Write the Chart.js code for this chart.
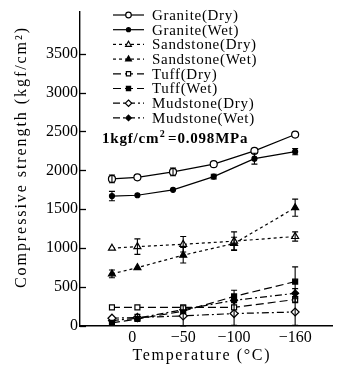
<!DOCTYPE html>
<html>
<head>
<meta charset="utf-8">
<script src="https://cdn.jsdelivr.net/npm/chart.js@4.4.0/dist/chart.umd.min.js"></script>
<style>
  html, body { margin: 0; padding: 0; background: #fff; }
  #wrap { width: 338px; height: 370px; }
</style>
</head>
<body>
<div id="wrap"><canvas id="chart" width="338" height="370"></canvas></div>
<script>
// ===== test temperatures (deg C) =====
const graniteTemps = [20, -5, -40, -80, -120, -160];
const rockTemps = [20, -5, -50, -100, -160];

// ===== compressive strength (kgf/cm2) =====
const graniteDry = [1890, 1910, 1980, 2080, 2250, 2460];
const graniteWet = [1670, 1680, 1750, 1920, 2150, 2240];
const sandstoneDry = [1000, 1020, 1050, 1090, 1150];
const sandstoneWet = [670, 750, 910, 1060, 1520];
const tuffDry = [240, 240, 240, 240, 340];
const tuffWet = [40, 90, 190, 380, 570];
const mudstoneDry = [100, 110, 130, 160, 180];
const mudstoneWet = [70, 100, 210, 330, 420];

// ===== scatter (+/-) =====
const graniteDryErr = [50, 0, 50, 0, 0, 0];
const graniteWetErr = [60, 0, 0, 30, 70, 40];
const sandstoneDryErr = [0, 100, 100, 120, 60];
const sandstoneWetErr = [50, 0, 100, 80, 110];
const tuffDryErr = [0, 0, 0, 0, 40];
const tuffWetErr = [0, 0, 0, 80, 190];
const mudstoneDryErr = [0, 40, 130, 150, 170];
const mudstoneWetErr = [0, 0, 0, 0, 60];

// ===== tick labels =====
const xTicks = [0, -50, -100, -160];
const yTicks = [0, 500, 1000, 1500, 2000, 2500, 3000, 3500];

const SERIF = "'Liberation Serif', 'DejaVu Serif', serif";

function pts(temps, vals) {
    return temps.map((t, i) => ({ x: t, y: vals[i] }));
}

function series(label, temps, vals, errs, style, filled, radius, dash) {
    return {
        label: label,
        data: pts(temps, vals),
        errors: errs,
        borderColor: '#000',
        borderWidth: 1.2,
        borderDash: dash,
        pointStyle: style,
        pointRadius: radius,
        pointBorderWidth: 1.2,
        pointBorderColor: '#000',
        pointBackgroundColor: filled ? '#000' : '#fff',
        fill: false,
        tension: 0
    };
}

const SOLID = [];
const DOTTED = [3, 3];
const DASHED = [8, 4];
const DASHDOT = [7, 3, 2, 3];

const datasets = [
    series('Granite(Dry)', graniteTemps, graniteDry, graniteDryErr, 'circle', false, 3.5, SOLID),
    series('Granite(Wet)', graniteTemps, graniteWet, graniteWetErr, 'circle', true, 2.5, SOLID),
    series('Sandstone(Dry)', rockTemps, sandstoneDry, sandstoneDryErr, 'triangle', false, 4, DOTTED),
    series('Sandstone(Wet)', rockTemps, sandstoneWet, sandstoneWetErr, 'triangle', true, 4, DOTTED),
    series('Tuff(Dry)', rockTemps, tuffDry, tuffDryErr, 'rect', false, 3.5, DASHED),
    series('Tuff(Wet)', rockTemps, tuffWet, tuffWetErr, 'rect', true, 3.5, DASHED),
    series('Mudstone(Dry)', rockTemps, mudstoneDry, mudstoneDryErr, 'rectRot', false, 4, DASHDOT),
    series('Mudstone(Wet)', rockTemps, mudstoneWet, mudstoneWetErr, 'rectRot', true, 3.5, DASHDOT)
];

// ===== small marker painter for the legend =====
function drawMarker(ctx, style, x, y, r, fill) {
    ctx.save();
    ctx.setLineDash([]);
    ctx.lineWidth = 1.2;
    ctx.strokeStyle = '#000';
    ctx.fillStyle = fill;
    ctx.beginPath();
    if (style === 'circle') {
        ctx.arc(x, y, r, 0, Math.PI * 2);
    } else if (style === 'triangle') {
        ctx.moveTo(x, y - r);
        ctx.lineTo(x + r * 0.9, y + r * 0.6);
        ctx.lineTo(x - r * 0.9, y + r * 0.6);
        ctx.closePath();
    } else if (style === 'rect') {
        ctx.rect(x - r * 0.75, y - r * 0.75, r * 1.5, r * 1.5);
    } else {
        ctx.moveTo(x, y - r);
        ctx.lineTo(x + r, y);
        ctx.lineTo(x, y + r);
        ctx.lineTo(x - r, y);
        ctx.closePath();
    }
    ctx.fill();
    ctx.stroke();
    ctx.restore();
}

// ===== error bars =====
const errorBars = {
    id: 'errorBars',
    afterDatasetsDraw(chart) {
        const ctx = chart.ctx;
        const xs = chart.scales.x, ys = chart.scales.y;
        ctx.save();
        ctx.strokeStyle = '#000';
        ctx.lineWidth = 1.1;
        ctx.setLineDash([]);
        chart.data.datasets.forEach(ds => {
            ds.data.forEach((p, i) => {
                const e = ds.errors[i];
                if (!e) return;
                const px = xs.getPixelForValue(p.x);
                const top = ys.getPixelForValue(p.y + e);
                const bot = ys.getPixelForValue(Math.max(0, p.y - e));
                ctx.beginPath();
                ctx.moveTo(px, top); ctx.lineTo(px, bot);
                ctx.moveTo(px - 3, top); ctx.lineTo(px + 3, top);
                ctx.moveTo(px - 3, bot); ctx.lineTo(px + 3, bot);
                ctx.stroke();
            });
        });
        ctx.restore();
    }
};

// ===== text, inner legend, inward ticks =====
function spacedText(ctx, text, x, y, width) {
    ctx.letterSpacing = '0px';
    const w = ctx.measureText(text).width;
    const ls = (width - w) / (text.length - 1);
    ctx.letterSpacing = ls + 'px';
    ctx.textAlign = 'left';
    ctx.fillText(text, x - width / 2, y);
    ctx.letterSpacing = '0px';
}

const decorations = {
    id: 'decorations',
    afterDraw(chart) {
        const ctx = chart.ctx;
        const area = chart.chartArea;
        const ys = chart.scales.y;
        ctx.save();
        ctx.fillStyle = '#000';
        ctx.strokeStyle = '#000';

        // y ticks point inward
        ctx.lineWidth = 1.3;
        yTicks.forEach(v => {
            const py = Math.round(ys.getPixelForValue(v)) + 0.5;
            ctx.beginPath();
            ctx.moveTo(area.left, py);
            ctx.lineTo(area.left + 6, py);
            ctx.stroke();
        });

        // legend
        ctx.font = '15px ' + SERIF;
        ctx.textBaseline = 'middle';
        chart.data.datasets.forEach((ds, i) => {
            const cy = 15 + i * 14.7;
            ctx.save();
            ctx.lineWidth = 1.2;
            ctx.setLineDash(ds.borderDash);
            ctx.beginPath();
            ctx.moveTo(113, cy);
            ctx.lineTo(144, cy);
            ctx.stroke();
            ctx.restore();
            drawMarker(ctx, ds.pointStyle, 128.5, cy, ds.pointRadius * 0.8, ds.pointBackgroundColor);
            ctx.letterSpacing = '0.7px';
            ctx.textAlign = 'left';
            ctx.fillText(ds.label, 152, cy + 1);
            ctx.letterSpacing = '0px';
        });

        // unit note
        ctx.textBaseline = 'alphabetic';
        ctx.textAlign = 'left';
        ctx.letterSpacing = '0.8px';
        ctx.font = 'bold 15px ' + SERIF;
        let x = 102;
        ctx.fillText('1kgf/cm', x, 143);
        x += ctx.measureText('1kgf/cm').width;
        ctx.font = 'bold 10px ' + SERIF;
        ctx.fillText('2', x + 0.5, 137);
        x += ctx.measureText('2').width + 3;
        ctx.font = 'bold 15px ' + SERIF;
        ctx.fillText('=0.098MPa', x, 143);
        ctx.letterSpacing = '0px';

        // axis titles
        ctx.font = '16px ' + SERIF;
        spacedText(ctx, 'Temperature (°C)', 201, 360, 137);
        ctx.translate(26, 158);
        ctx.rotate(-Math.PI / 2);
        spacedText(ctx, 'Compressive strength (kgf/cm²)', 0, 0, 260);
        ctx.restore();
    }
};

const ctx = document.getElementById('chart').getContext('2d');
new Chart(ctx, {
    type: 'line',
    data: { datasets: datasets },
    options: {
        responsive: false,
        animation: false,
        layout: { padding: { top: 10, right: 2, left: 0, bottom: 0 } },
        plugins: { legend: { display: false }, tooltip: { enabled: false } },
        scales: {
            x: {
                type: 'linear',
                reverse: true,
                min: -197,
                max: 51.4,
                afterBuildTicks: axis => { axis.ticks = xTicks.map(v => ({ value: v })); },
                afterFit: axis => { axis.height = 44; },
                grid: { drawOnChartArea: false, drawTicks: false },
                border: { display: true, color: '#000', width: 1.4 },
                ticks: {
                    color: '#000',
                    padding: 2,
                    maxRotation: 0,
                    font: { family: SERIF, size: 16 },
                    callback: v => v < 0 ? '\u2212' + Math.abs(v) : String(v)
                }
            },
            y: {
                type: 'linear',
                min: 0,
                max: 4040,
                afterBuildTicks: axis => { axis.ticks = yTicks.map(v => ({ value: v })); },
                afterFit: axis => { axis.width = 80; },
                grid: { drawOnChartArea: false, drawTicks: false },
                border: { display: true, color: '#000', width: 1.4 },
                ticks: {
                    color: '#000',
                    padding: 2,
                    font: { family: SERIF, size: 16 },
                    callback: v => String(v)
                }
            }
        }
    },
    plugins: [errorBars, decorations]
});
</script>
</body>
</html>
